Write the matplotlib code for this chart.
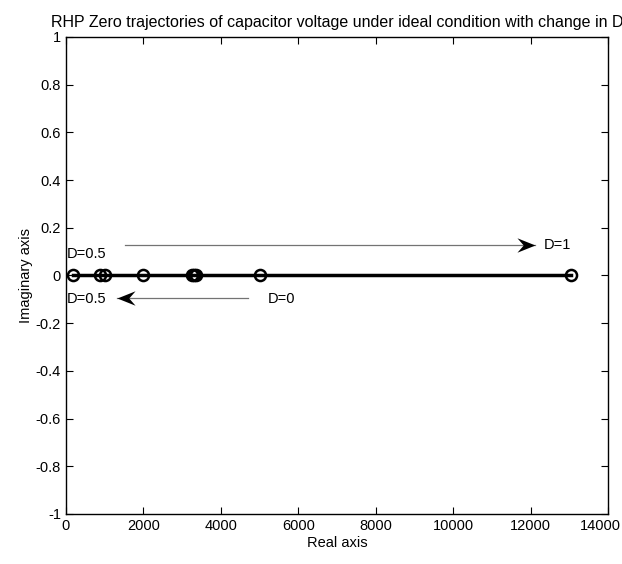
import numpy as np
import matplotlib
matplotlib.use("Agg")
import matplotlib.pyplot as plt
from matplotlib.path import Path
from matplotlib.transforms import ScaledTranslation

plt.rcParams['font.family'] = ['Liberation Sans', 'DejaVu Sans']

# zero locations (real part) for D swept 0 -> 1
zero_re = [180, 870, 1010, 2000, 3250, 3300, 3350, 5000, 13050]
zero_im = [0, 0, 0, 0, 0, 0, 0, 0, 0]

xticks = [0, 2000, 4000, 6000, 8000, 10000, 12000, 14000]
yticks = [-1, -0.8, -0.6, -0.4, -0.2, 0, 0.2, 0.4, 0.6, 0.8, 1]
ytick_labels = ["-1", "-0.8", "-0.6", "-0.4", "-0.2", "0", "0.2", "0.4", "0.6", "0.8", "1"]

# annotation arrows: (tail, head)
arrow_up = ((1520, 0.128), (12120, 0.128))
arrow_down = ((4700, -0.095), (1330, -0.095))

fs = 10.5


def stealth_head(direction):
    # concave-backed arrow head, tip at origin
    d = 1 if direction > 0 else -1
    verts = [(0, 0), (-d * 1.0, 0.4), (-d * 0.65, 0), (-d * 1.0, -0.4), (0, 0)]
    codes = [Path.MOVETO, Path.LINETO, Path.LINETO, Path.LINETO, Path.CLOSEPOLY]
    return Path(verts, codes)


fig = plt.figure(figsize=(6.22, 5.64), dpi=100)
ax = fig.add_axes([0.106, 0.0887, 0.8714, 0.8457])

ax.plot([zero_re[0], zero_re[-1]], [0, 0], color="black", lw=2.5, zorder=2)
ax.plot(zero_re, zero_im, "o", ms=8, mfc="none", mec="black", mew=1.8, zorder=3)

for (tail, head) in (arrow_up, arrow_down):
    ax.plot([tail[0], head[0]], [tail[1], head[1]], color="0.45", lw=0.9, zorder=2)
    ax.plot([head[0]], [head[1]], marker=stealth_head(head[0] - tail[0]), ms=26,
            color="black", mew=0, zorder=3)

ax.text(30, 0.09, "D=0.5", fontsize=fs, va="center", ha="left")
ax.text(12350, 0.128, "D=1", fontsize=fs, va="center", ha="left")
ax.text(30, -0.1, "D=0.5", fontsize=fs, va="center", ha="left")
ax.text(5220, -0.1, "D=0", fontsize=fs, va="center", ha="left")

ax.set_xlim(0, 14000)
ax.set_ylim(-1, 1)
ax.set_xticks(xticks)
ax.set_xticklabels([str(t) for t in xticks])
ax.set_yticks(yticks)
ax.set_yticklabels(ytick_labels)
ax.tick_params(direction="in", top=True, right=True, labelsize=fs, length=5, width=0.8)
# keep the last x label inside the figure
last = ax.get_xticklabels()[-1]
last.set_horizontalalignment("right")
last.set_transform(last.get_transform() + ScaledTranslation(0.13, 0, fig.dpi_scale_trans))
for s in ax.spines.values():
    s.set_linewidth(1.0)

ax.set_xlabel("Real axis", fontsize=fs, labelpad=2)
ax.set_ylabel("Imaginary axis", fontsize=fs, labelpad=2)
ax.set_title("RHP Zero trajectories of capacitor voltage under ideal condition with change in D",
             fontsize=11.5, pad=7)

fig.savefig("out.png", dpi=100)
